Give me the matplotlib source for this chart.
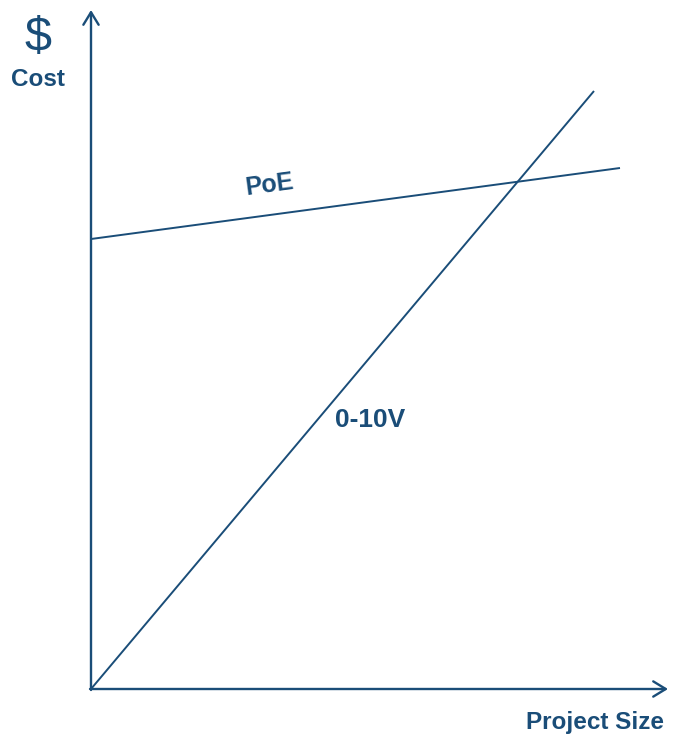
import matplotlib.pyplot as plt

navy = '#1a4d78'
plt.rcParams['font.family'] = ['Liberation Sans', 'DejaVu Sans']

# project size vs cost (arbitrary units)
poe_size = [0, 529]
poe_cost = [450, 521]
v010_size = [0, 503]
v010_cost = [0, 598]

fig = plt.figure(figsize=(6.79, 7.34), dpi=100)
ax = fig.add_axes([91/679, 45/734, 588/679, 689/734])
ax.set_xlim(0, 588)
ax.set_ylim(0, 689)
ax.axis('off')

ax.plot(poe_size, poe_cost, color=navy, lw=1.4, solid_capstyle='butt')
ax.plot(v010_size, v010_cost, color=navy, lw=1.4, solid_capstyle='butt')

# axes with open arrow heads
arrow = dict(arrowstyle='->,head_length=0.9,head_width=0.55', color=navy, lw=1.7,
             shrinkA=0, shrinkB=0)
ax.annotate('', xy=(0, 679), xytext=(0, -1), arrowprops=arrow, annotation_clip=False)
ax.annotate('', xy=(577, 0), xytext=(-1, 0), arrowprops=arrow, annotation_clip=False)

ax.text(-53, 650, '$', color=navy, fontsize=35, ha='center', va='center', clip_on=False)
ax.text(-53, 609, 'Cost', color=navy, fontsize=17.5, fontweight='bold',
        ha='center', va='center', clip_on=False)
ax.text(179, 504, 'PoE', color=navy, fontsize=18, fontweight='bold',
        ha='center', va='center', rotation=7.6)
ax.text(279, 269, '0-10V', color=navy, fontsize=19, fontweight='bold',
        ha='center', va='center')
ax.text(504, -33, 'Project Size', color=navy, fontsize=17.5, fontweight='bold',
        ha='center', va='center', clip_on=False)

fig.savefig('out.png', dpi=100)
